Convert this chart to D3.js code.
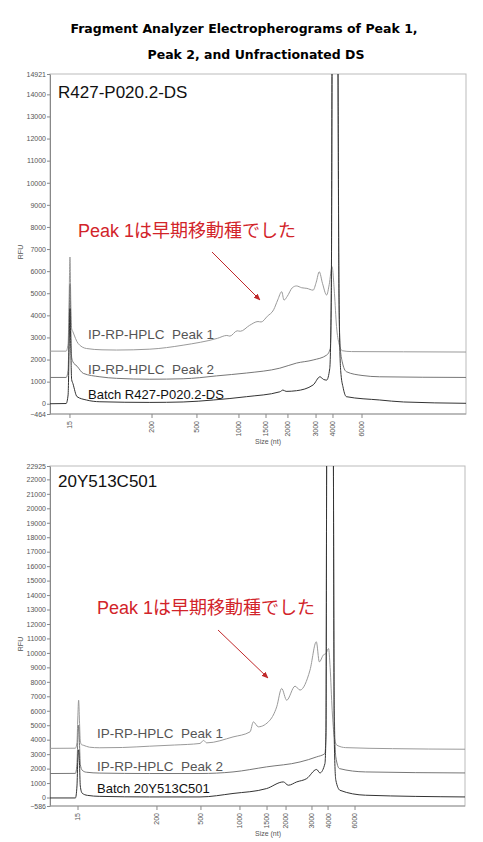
<!DOCTYPE html>
<html>
<head>
<meta charset="utf-8">
<script src="https://cdn.jsdelivr.net/npm/d3@7"></script>
<style>
  body { margin: 0; background: #fff; }
  svg { display: block; }
</style>
</head>
<body>
<div id="chart"></div>
<script>
// ladder sizes (nt) and where each one migrated (minutes) in each run
const ladderSizes = [15, 200, 500, 1000, 1500, 2000, 3000, 4000, 6000]
const topLadderTimes = [1.92, 9.81, 14.13, 18.17, 20.77, 22.88, 25.58, 27.21, 30.0]
const bottomLadderTimes = [2.70, 10.31, 14.55, 18.31, 20.92, 22.75, 25.25, 26.80, 29.40]

// traces: [minutes, RFU]
const topPeak1 = [[0,2380],[1.55,2380],[1.74,2700],[1.84,4800],[1.92,6640],[2.0,4600],[2.08,3400],[2.2,3260],[2.7,2730],[3.5,2500],[5.0,2440],[6.4,2430],[9.6,2470],[12.8,2650],[16.1,2960],[17.0,3090],[17.3,3060],[18.0,3300],[18.3,3280],[19.2,3550],[20.0,3720],[20.3,3700],[20.9,3960],[21.5,4250],[21.9,4700],[22.28,5070],[22.5,4690],[22.8,4850],[23.3,5250],[23.7,5330],[24.2,5250],[24.7,5220],[25.3,5140],[25.6,5500],[25.89,5970],[26.2,5450],[26.6,4920],[26.85,5400],[27.12,6200],[27.35,5000],[27.55,3500],[27.8,2700],[28.1,2400],[29,2360],[34,2350],[40,2340]]
const topPeak2 = [[0,1190],[1.55,1190],[1.74,1500],[1.84,3600],[1.92,5400],[2.0,3500],[2.08,2100],[2.2,1900],[2.6,1700],[3.2,1375],[4.8,1220],[6.4,1150],[9.6,1110],[12.8,1130],[14.4,1180],[16.0,1260],[18.9,1390],[22.1,1610],[23.7,1840],[25.3,1980],[26.6,2200],[26.95,2500],[27.05,5000],[27.12,15500],[27.4,60000],[27.69,15500],[27.78,5000],[27.9,2600],[28.1,1900],[28.5,1450],[30.0,1280],[31.7,1220],[40,1190]]
const topBatch = [[0,0],[1.55,10],[1.74,400],[1.84,2600],[1.92,4300],[2.0,2500],[2.08,1100],[2.2,920],[2.6,320],[3.5,170],[4.8,90],[9.6,60],[12.8,80],[15.7,170],[18.9,320],[22.1,540],[22.4,620],[22.7,560],[23.7,590],[25.3,850],[25.96,1220],[26.3,1100],[26.6,1070],[26.9,1600],[27.05,5000],[27.12,15500],[27.4,60000],[27.69,15500],[27.8,4500],[27.95,1500],[28.2,700],[28.5,320],[31.7,170],[34,80],[40,20]]

const bottomPeak1 = [[0,3400],[2.45,3410],[2.6,3800],[2.68,5500],[2.76,6730],[2.84,5300],[2.92,3900],[3.05,3650],[3.2,3620],[3.8,3480],[4.8,3440],[7,3460],[9.6,3550],[12,3630],[14.46,3740],[14.8,3950],[15.1,3780],[17.64,4190],[19.28,4540],[19.6,5230],[20.08,4890],[21.2,5350],[21.85,6270],[22.33,7540],[22.81,6730],[23.62,7700],[24.1,7430],[25.06,8810],[25.67,10770],[25.96,9380],[26.34,9850],[26.6,9970],[26.85,10300],[27.0,9000],[27.2,6000],[27.4,4200],[27.65,3620],[28.5,3450],[33,3380],[40,3340]]
const bottomPeak2 = [[0,1660],[2.45,1670],[2.6,2300],[2.68,4000],[2.76,5000],[2.84,3800],[2.92,2300],[3.1,1890],[3.5,1750],[4.8,1690],[9.6,1660],[14.46,1660],[17.64,1770],[20.88,2120],[24.1,2460],[25.7,2810],[26.5,3040],[26.6,4500],[26.67,25000],[26.99,90000],[27.31,25000],[27.4,6000],[27.55,2800],[27.9,2000],[30.4,1770],[40,1700]]
const bottomBatch = [[0,-30],[2.45,-30],[2.6,800],[2.68,2600],[2.76,3300],[2.84,2400],[2.92,800],[3.1,300],[3.6,150],[4.8,80],[9.6,40],[14.46,40],[17.64,280],[20.88,620],[22.49,1080],[22.97,850],[23.78,1080],[24.74,1310],[25.7,1940],[26.02,1700],[26.5,2350],[26.6,4500],[26.67,25000],[26.99,90000],[27.31,25000],[27.4,4000],[27.55,1200],[27.95,500],[30.4,160],[40,40]]

const topYTicks = [-464, ...d3.range(0, 15000, 1000), 14921]
const bottomYTicks = [-586, ...d3.range(0, 23000, 1000), 22925]

const seriesColors = ["#9a9a9a", "#777", "#333"]
const note = "Peak 1は早期移動種でした"

const W = 483, H = 842
const svg = d3.select("#chart").append("svg").attr("width", W).attr("height", H)

svg.append("defs").append("marker")
    .attr("id", "arrow")
    .attr("viewBox", "0 0 10 10")
    .attr("refX", 9).attr("refY", 5)
    .attr("markerWidth", 7).attr("markerHeight", 7)
    .attr("orient", "auto")
  .append("path")
    .attr("d", "M0,1L10,5L0,9z")
    .attr("fill", "#c0282a")

// title
svg.append("text").attr("x", 244).attr("y", 33)
    .attr("text-anchor", "middle")
    .style("font", "bold 12.5px 'DejaVu Sans'")
    .text("Fragment Analyzer Electropherograms of Peak 1,")
svg.append("text").attr("x", 256).attr("y", 59)
    .attr("text-anchor", "middle")
    .style("font", "bold 12.5px 'DejaVu Sans'")
    .text("Peak 2, and Unfractionated DS")

const panels = [
    {id: "top", name: "R427-P020.2-DS", x0: 50, x1: 466, y0: 74, y1: 414,
     yMin: -464, yMax: 14921, yTicks: topYTicks, ladder: topLadderTimes,
     traces: [topPeak1, topPeak2, topBatch],
     labels: ["IP-RP-HPLC  Peak 1", "IP-RP-HPLC  Peak 2", "Batch R427-P020.2-DS"],
     labelX: 88, labelY: [339, 374, 399], nameY: 98,
     noteX: 78, noteY: 237, arrow: [[212, 252], [260, 300]]},
    {id: "bottom", name: "20Y513C501", x0: 50, x1: 465, y0: 466, y1: 806,
     yMin: -586, yMax: 22925, yTicks: bottomYTicks, ladder: bottomLadderTimes,
     traces: [bottomPeak1, bottomPeak2, bottomBatch],
     labels: ["IP-RP-HPLC  Peak 1", "IP-RP-HPLC  Peak 2", "Batch 20Y513C501"],
     labelX: 97, labelY: [738, 771, 793], nameY: 487,
     noteX: 97, noteY: 614, arrow: [[218, 630], [268, 678]]}
]

panels.forEach(p => {
    const x = d3.scaleLinear().domain([0, 40]).range([p.x0, p.x1])
    const y = d3.scaleLinear().domain([p.yMin, p.yMax]).range([p.y1, p.y0])
    const g = svg.append("g")

    g.append("clipPath").attr("id", "clip-" + p.id)
      .append("rect").attr("x", p.x0).attr("y", p.y0)
      .attr("width", p.x1 - p.x0).attr("height", p.y1 - p.y0)

    // frame
    g.append("rect").attr("x", p.x0).attr("y", p.y0)
        .attr("width", p.x1 - p.x0).attr("height", p.y1 - p.y0)
        .attr("fill", "none").attr("stroke", "#bbb").attr("stroke-width", 1)

    // y axis
    const yAxis = g.append("g").attr("transform", `translate(${p.x0},0)`)
        .call(d3.axisLeft(y).tickValues(p.yTicks).tickSize(3).tickSizeOuter(0).tickFormat(d3.format("d")))
    yAxis.select(".domain").attr("stroke", "#888")
    yAxis.selectAll(".tick line").attr("stroke", "#888")
    yAxis.selectAll("text").attr("fill", "#555").style("font", "7px 'Liberation Sans'").attr("x", -4)

    // x axis: ladder sizes at their migration times
    const xAxis = g.append("g").attr("transform", `translate(0,${p.y1})`)
    xAxis.append("line").attr("x1", p.x0).attr("x2", p.x1).attr("stroke", "#999")
    const ticks = xAxis.selectAll(".tick").data(ladderSizes).join("g")
        .attr("transform", (d, i) => `translate(${x(p.ladder[i])},0)`)
    ticks.append("line").attr("y2", 4).attr("stroke", "#888")
    ticks.append("text")
        .attr("transform", "translate(0,7) rotate(-90)")
        .attr("text-anchor", "end").attr("dy", "0.35em")
        .attr("fill", "#555").style("font", "7px 'Liberation Sans'")
        .text(d => d)

    g.append("text").attr("x", 268).attr("y", p.y1 + 30)
        .attr("text-anchor", "middle").attr("fill", "#555")
        .style("font", "7px 'Liberation Sans'").text("Size (nt)")
    g.append("text")
        .attr("transform", `translate(23,${(p.y0 + p.y1) / 2 + 8}) rotate(-90)`)
        .attr("text-anchor", "middle").attr("fill", "#555")
        .style("font", "7px 'Liberation Sans'").text("RFU")

    // traces
    const line = d3.line().x(d => x(d[0])).y(d => y(d[1])).curve(d3.curveMonotoneX)
    g.append("g").attr("clip-path", `url(#clip-${p.id})`)
      .selectAll("path").data(p.traces).join("path")
        .attr("d", line)
        .attr("fill", "none")
        .attr("stroke", (d, i) => seriesColors[i])
        .attr("stroke-width", 1)

    // annotations
    g.append("text").attr("x", p.x0 + 8).attr("y", p.nameY)
        .style("font", "17px 'Liberation Sans'").attr("fill", "#111").text(p.name)

    g.selectAll(".series-label").data(p.labels).join("text")
        .attr("x", p.labelX).attr("y", (d, i) => p.labelY[i])
        .attr("fill", (d, i) => i == 2 ? "#111" : "#555")
        .style("white-space", "pre")
        .style("font", (d, i) => i == 2 ? "13px 'Liberation Sans'" : "13.5px 'Liberation Sans'")
        .text(d => d)

    g.append("text").attr("x", p.noteX).attr("y", p.noteY)
        .attr("fill", "#d2242a")
        .style("font", "18px 'Liberation Sans', 'Noto Sans CJK JP'")
        .text(note)

    g.append("line")
        .attr("x1", p.arrow[0][0]).attr("y1", p.arrow[0][1])
        .attr("x2", p.arrow[1][0]).attr("y2", p.arrow[1][1])
        .attr("stroke", "#c0282a").attr("stroke-width", 1)
        .attr("marker-end", "url(#arrow)")
})
</script>
</body>
</html>
